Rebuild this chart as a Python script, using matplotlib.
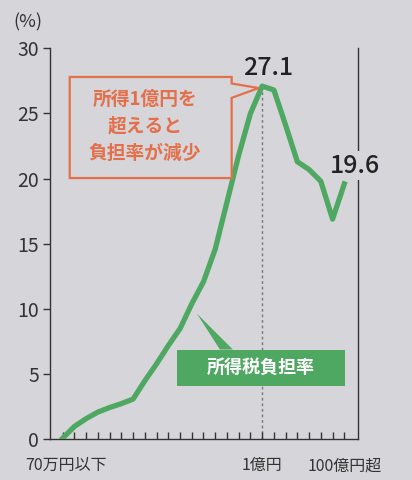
import matplotlib.pyplot as plt
from matplotlib.patches import Polygon, Rectangle

plt.rcParams['font.family'] = ['Noto Sans CJK JP', 'DejaVu Sans']

# income classes (25 brackets), only some labelled
classes = ["70万円以下", "100万円以下", "150万円以下", "200万円以下", "250万円以下",
           "300万円以下", "400万円以下", "500万円以下", "600万円以下", "700万円以下",
           "800万円以下", "1000万円以下", "1200万円以下", "1500万円以下", "2000万円以下",
           "3000万円以下", "5000万円以下", "1億円以下", "2億円以下", "5億円以下",
           "10億円以下", "20億円以下", "50億円以下", "100億円以下", "100億円超"]
burden = [0.1, 1.0, 1.6, 2.1, 2.45, 2.75, 3.1, 4.5, 5.8, 7.2, 8.5, 10.4, 12.1,
          14.6, 18.2, 21.8, 25.0, 27.1, 26.8, 24.1, 21.3, 20.7, 19.8, 16.9, 19.6]
tick_labels = {0: "70万円以下", 17: "1億円", 24: "100億円超"}
yticks = [0, 5, 10, 15, 20, 25, 30]

bg = "#d6d5da"
green = "#4fa862"
orange = "#e3704a"

fig = plt.figure(figsize=(4.12, 4.80), dpi=100, facecolor=bg)
ax = fig.add_axes([0.1214, 0.0844, 0.7476, 0.815], facecolor=bg)

x = list(range(len(classes)))
peak = burden.index(max(burden))
ax.plot([peak, peak], [0, burden[peak]], color="#777777", lw=1, ls=(0, (2, 2)), zorder=1)
ax.plot(x, burden, color=green, lw=3.8, solid_joinstyle="round", zorder=3)

ax.set_xlim(-1.08, 25.17)
ax.set_ylim(0, 30)
ax.spines["top"].set_visible(False)
for s in ["left", "right", "bottom"]:
    ax.spines[s].set_color("#333333")
    ax.spines[s].set_linewidth(1)

ax.set_yticks(yticks)
ax.set_yticklabels([str(v) for v in yticks], fontsize=14, color="#333333")
ax.tick_params(axis="y", length=5, width=1, color="#333333", pad=3)
ax.set_xticks(x)
ax.set_xticklabels([])
ax.tick_params(axis="x", direction="in", length=5, width=1, color="#333333")

xform = ax.get_xaxis_transform()
for i, lab in tick_labels.items():
    xpos = -3.2 if i == 0 else i
    ax.text(xpos, -0.045, lab, transform=xform, fontsize=11.5, color="#333333",
            ha="left" if i == 0 else "center", va="top", clip_on=False)

ax.text(-0.12, 1.065, "(%)", transform=ax.transAxes, fontsize=13, color="#333333",
        ha="left", va="center")

# value labels
ax.text(peak + 0.5, burden[peak] + 0.4, f"{burden[peak]}", fontsize=18, ha="center",
        va="bottom", color="#222222", fontweight="medium")
ax.text(len(x) - 1 + 0.9, burden[-1] + 0.4, f"{burden[-1]}", fontsize=18, ha="center",
        va="bottom", color="#222222", fontweight="medium",
        bbox=dict(facecolor=bg, edgecolor="none", pad=1))

# orange callout
callout = Polygon([(0.6, 27.8), (14.4, 27.8), (14.4, 27.3), (16.7, 26.95),
                   (14.4, 26.2), (14.4, 20.05), (0.6, 20.05)],
                  closed=True, facecolor=bg, edgecolor=orange, lw=1.6, zorder=4)
ax.add_patch(callout)
ax.text(7.0, 24.0, "所得1億円を\n超えると\n負担率が減少", fontsize=13.5, fontweight="bold",
        color=orange, ha="center", va="center", linespacing=1.55, zorder=5)

# green label
ax.add_patch(Polygon([(11.43, 9.66), (13.4, 6.9), (14.5, 6.9)], closed=True,
                     facecolor=green, edgecolor="none", zorder=4))
ax.add_patch(Rectangle((9.7, 4.1), 14.4, 2.8, facecolor=green, edgecolor="none", zorder=4))
ax.text(16.9, 5.5, "所得税負担率", fontsize=13, color="white", ha="center",
        va="center", fontweight="bold", zorder=5)

fig.savefig("out.png", dpi=100, facecolor=bg)
